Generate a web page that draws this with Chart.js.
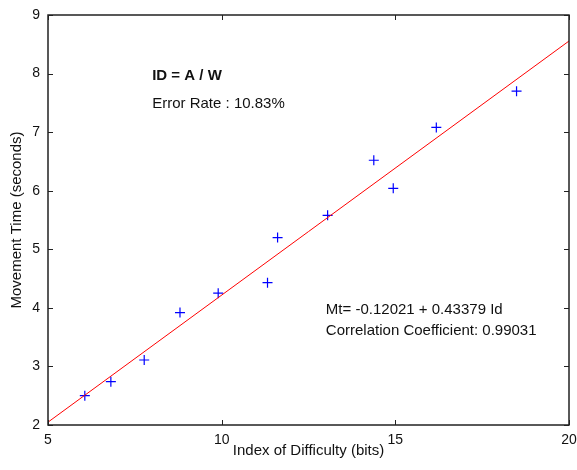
<!DOCTYPE html>
<html>
<head>
<meta charset="utf-8">
<script src="https://cdn.jsdelivr.net/npm/chart.js@4"></script>
<style>
  html, body { margin: 0; padding: 0; background: #fff; }
  #wrap { width: 577px; height: 470px; }
</style>
</head>
<body>
<div id="wrap"><canvas id="fitts"></canvas></div>
<script>
// measured points: index of difficulty (bits) vs movement time (s)
const idBits = [6.06, 6.81, 7.77, 8.80, 9.90, 11.32, 11.61, 13.05, 14.38, 14.94, 16.18, 18.49];
const mtSecs = [2.50, 2.74, 3.11, 3.92, 4.25, 4.43, 5.20, 5.58, 6.52, 6.04, 7.08, 7.70];

// regression line from the fit shown on the chart
const fitIntercept = -0.12021;
const fitSlope = 0.43379;
const fitRange = [5, 20];

const xTicks = [5, 10, 15, 20];
const yTicks = [2, 3, 4, 5, 6, 7, 8, 9];

const notes = [
  { text: "ID = A / W", x: 8, y: 7.96, bold: true },
  { text: "Error Rate : 10.83%", x: 8, y: 7.48 },
  { text: "Mt= -0.12021 + 0.43379 Id", x: 13, y: 3.97 },
  { text: "Correlation Coefficient: 0.99031", x: 13, y: 3.6 }
];

const FONT = "'Liberation Sans', Arial, sans-serif";

const points = idBits.map((x, i) => ({ x, y: mtSecs[i] }));
const fitLine = fitRange.map(x => ({ x, y: fitIntercept + fitSlope * x }));

// box around the plot with matlab style inward ticks, plus the text notes
const framePlugin = {
  id: "frame",
  afterDatasetsDraw(chart) {
    const { ctx, chartArea: a, scales } = chart;
    ctx.save();
    ctx.strokeStyle = "#222";
    ctx.lineWidth = 1;
    const tl = 5;
    ctx.beginPath();
    xTicks.forEach(v => {
      const px = Math.round(scales.x.getPixelForValue(v)) + 0.5;
      ctx.moveTo(px, a.bottom); ctx.lineTo(px, a.bottom - tl);
      ctx.moveTo(px, a.top); ctx.lineTo(px, a.top + tl);
    });
    yTicks.forEach(v => {
      const py = Math.round(scales.y.getPixelForValue(v)) + 0.5;
      ctx.moveTo(a.left, py); ctx.lineTo(a.left + tl, py);
      ctx.moveTo(a.right, py); ctx.lineTo(a.right - tl, py);
    });
    ctx.stroke();
    ctx.lineWidth = 1.5;
    ctx.strokeRect(a.left, a.top, a.right - a.left, a.bottom - a.top);

    ctx.fillStyle = "#111";
    ctx.textBaseline = "middle";
    ctx.textAlign = "left";
    notes.forEach(n => {
      ctx.font = (n.bold ? "bold " : "") + "15px " + FONT;
      ctx.fillText(n.text, scales.x.getPixelForValue(n.x), scales.y.getPixelForValue(n.y));
    });
    ctx.restore();
  }
};

new Chart(document.getElementById("fitts"), {
  type: "scatter",
  data: {
    datasets: [
      {
        label: "fit",
        type: "line",
        data: fitLine,
        borderColor: "#ff0000",
        borderWidth: 1,
        pointRadius: 0,
        fill: false
      },
      {
        label: "trials",
        data: points,
        pointStyle: "cross",
        pointRadius: 5,
        borderColor: "#0000ff",
        borderWidth: 1.2
      }
    ]
  },
  options: {
    responsive: true,
    maintainAspectRatio: false,
    animation: false,
    layout: { padding: { top: 15, right: 8, left: 0, bottom: 0 } },
    plugins: {
      legend: { display: false },
      tooltip: { enabled: false }
    },
    scales: {
      x: {
        type: "linear",
        min: 5,
        max: 20,
        afterBuildTicks: s => { s.ticks = xTicks.map(value => ({ value })); },
        afterFit: s => { s.height = 45; s.paddingRight = 0; s.paddingLeft = 0; },
        grid: { display: false, drawTicks: false },
        border: { display: false },
        ticks: { color: "#111", font: { family: FONT, size: 14 }, padding: 7, maxRotation: 0 },
        title: {
          display: true,
          text: "Index of Difficulty (bits)",
          color: "#111",
          font: { family: FONT, size: 15 },
          padding: { top: 0, bottom: 10 }
        }
      },
      y: {
        type: "linear",
        min: 2,
        max: 9,
        afterBuildTicks: s => { s.ticks = yTicks.map(value => ({ value })); },
        afterFit: s => { s.width = 48; s.paddingTop = 0; s.paddingBottom = 0; },
        grid: { display: false, drawTicks: false },
        border: { display: false },
        ticks: { color: "#111", font: { family: FONT, size: 14 }, padding: 8 },
        title: {
          display: true,
          text: "Movement Time (seconds)",
          color: "#111",
          font: { family: FONT, size: 15 },
          padding: { top: 8, bottom: 0 }
        }
      }
    }
  },
  plugins: [framePlugin]
});
</script>
</body>
</html>
